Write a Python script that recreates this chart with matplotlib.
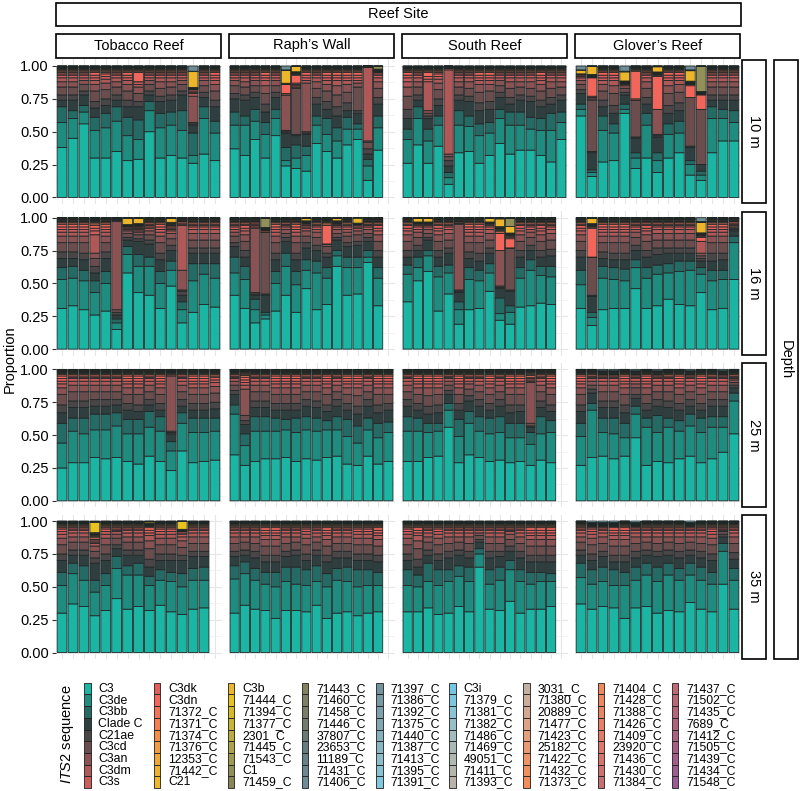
"""Faceted stacked bars: ITS2 sequence proportions per sample, by reef site and depth."""
import numpy as np
import matplotlib
matplotlib.use("Agg")
import matplotlib.pyplot as plt
from matplotlib.patches import Rectangle

plt.rcParams["font.family"] = ["Liberation Sans", "DejaVu Sans"]
plt.rcParams["mathtext.fontset"] = "custom"
plt.rcParams["mathtext.rm"] = "Liberation Sans"
plt.rcParams["mathtext.it"] = "Liberation Sans:italic"

# ---- categories -------------------------------------------------------------
SEQS = [
    "C3", "C3de", "C3bb", "Clade C", "C21ae", "C3cd", "C3an", "C3dm", "C3s",
    "C3dk", "C3dn", "71372_C", "71371_C", "71374_C", "71376_C", "12353_C", "71442_C", "C21",
    "C3b", "71444_C", "71394_C", "71377_C", "2301_C", "71445_C", "71543_C", "C1", "71459_C",
    "71443_C", "71460_C", "71458_C", "71446_C", "37807_C", "23653_C", "11189_C", "71431_C", "71406_C",
    "71397_C", "71386_C", "71392_C", "71375_C", "71440_C", "71387_C", "71413_C", "71395_C", "71391_C",
    "C3i", "71379_C", "71381_C", "71382_C", "71486_C", "71469_C", "49051_C", "71411_C", "71393_C",
    "3031_C", "71380_C", "20889_C", "71477_C", "71423_C", "25182_C", "71422_C", "71432_C", "71373_C",
    "71404_C", "71428_C", "71388_C", "71426_C", "71409_C", "23920_C", "71436_C", "71430_C", "71384_C",
    "71437_C", "71502_C", "71435_C", "7689_C", "71412_C", "71505_C", "71439_C", "71434_C", "71548_C",
]
PALETTE = [
    "#1BB5A4", "#1F8C80", "#246B66", "#2F3E3F", "#4A4546", "#6B4D4E", "#8A5253", "#B05858", "#CC5C5C",
    "#E05F5C", "#F2655A", "#F47258", "#F48052", "#F28E49", "#F09C40", "#EEA838", "#EDB232", "#EDB82C",
    "#EDB62A", "#E8C21E", "#D6BA2A", "#C8B436", "#B9AC40", "#ABA448", "#9E9A50", "#928F58", "#888659",
    "#83825E", "#7E8064", "#7A7E68", "#727C6E", "#697A74", "#667C7E", "#688186", "#6B878F", "#6D8C96",
    "#72939E", "#7799A5", "#7CA0AC", "#80A7B3", "#84AFBB", "#88B6C3", "#8BBDCB", "#88C3D4", "#80C8DE",
    "#74C6E4", "#7CC6DF", "#88C4D4", "#96C0C8", "#A1BDBE", "#A9BAB6", "#AFB8B1", "#B3B5AE", "#B8B2AA",
    "#C4B0A2", "#CCAD9A", "#D4A890", "#DCA486", "#E3A07C", "#E99A72", "#EE9568", "#F0905F", "#F28C58",
    "#F08A5C", "#EE8760", "#EB8463", "#E78066", "#E27C68", "#DD786A", "#D6746C", "#CF716E", "#C76E70",
    "#C06A73", "#BA6776", "#B56579", "#B0627D", "#AB6081", "#A65E86", "#A25D8B", "#9E5C90", "#995A96",
]

SITES = ["Tobacco Reef", "Raph\u2019s Wall", "South Reef", "Glover\u2019s Reef"]
DEPTHS = ["10 m", "16 m", "25 m", "35 m"]
N_POSITIONS = [15, 16, 16, 15]   # sample slots per site column

# major sequences, % per sample: C3, C3de, C3bb, Clade C, C21ae, C3cd, C3an, C3dm, C3s, C3dk, C3dn
MAJOR = SEQS[:11]

tobacco_10m = [
    [38, 19, 12, 5, 4, 6, 4, 3, 2, 1, 1], [45, 15, 6, 8, 4, 6, 4, 3, 2, 1, 1],
    [56, 9, 5, 8, 3, 5, 3, 2, 2, 1, 1], [30, 21, 10, 7, 5, 8, 5, 3, 2, 2, 2],
    [30, 23, 11, 6, 5, 7, 5, 3, 2, 2, 1], [35, 23, 11, 5, 4, 6, 4, 3, 2, 1, 1],
    [28, 19, 14, 8, 5, 7, 5, 3, 2, 2, 2], [29, 15, 15, 10, 4, 6, 5, 2, 2, 0, 7],
    [50, 16, 7, 5, 3, 5, 3, 2, 2, 1, 1], [30, 23, 11, 9, 4, 6, 5, 3, 2, 1, 1],
    [32, 23, 10, 9, 4, 6, 4, 3, 2, 1, 1], [30, 21, 15, 12, 3, 5, 3, 2, 2, 1, 1],
    [26, 6, 17, 6, 1, 1, 20, 2, 1, 1, 1], [33, 27, 9, 7, 4, 5, 4, 2, 2, 1, 1],
    [28, 21, 9, 11, 5, 7, 5, 3, 2, 2, 2],
]
raphs_10m = [
    [37, 18, 10, 10, 4, 6, 4, 2, 2, 1, 1], [32, 23, 7, 12, 4, 6, 4, 3, 2, 1, 1],
    [44, 14, 9, 9, 4, 5, 4, 2, 2, 1, 1], [30, 18, 9, 8, 6, 8, 6, 4, 2, 2, 2],
    [47, 13, 7, 9, 4, 5, 4, 2, 2, 1, 1], [24, 4, 10, 11, 1, 1, 27, 0, 0, 1, 7],
    [22, 8, 10, 7, 1, 35, 1, 1, 1, 1, 6], [20, 12, 7, 9, 1, 1, 37, 2, 2, 2, 2],
    [41, 14, 7, 9, 5, 7, 5, 3, 2, 1, 1], [35, 13, 12, 7, 6, 8, 5, 3, 2, 2, 2],
    [30, 13, 10, 9, 7, 9, 7, 4, 2, 2, 2], [40, 12, 9, 5, 6, 8, 6, 3, 2, 2, 2],
    [44, 8, 4, 8, 2, 18, 3, 2, 2, 2, 2], [13, 11, 5, 4, 4, 5, 1, 56, 0, 0, 0],
    [36, 17, 9, 9, 5, 7, 5, 3, 2, 1, 1],
]
south_10m = [
    [26, 18, 8, 8, 7, 10, 7, 4, 3, 2, 2], [40, 20, 9, 5, 4, 6, 4, 3, 2, 1, 1],
    [26, 17, 9, 8, 2, 2, 2, 22, 2, 2, 3], [39, 16, 7, 8, 5, 7, 5, 3, 2, 2, 1],
    [10, 5, 4, 5, 4, 3, 2, 64, 1, 0, 0], [34, 21, 11, 8, 4, 6, 4, 3, 2, 1, 1],
    [35, 19, 8, 11, 4, 6, 5, 3, 2, 1, 1], [26, 21, 9, 10, 6, 8, 6, 3, 2, 2, 2],
    [32, 17, 8, 10, 6, 8, 5, 3, 2, 2, 2], [41, 19, 7, 9, 4, 5, 4, 2, 2, 1, 1],
    [33, 22, 10, 6, 5, 7, 5, 3, 2, 1, 1], [36, 19, 10, 9, 4, 6, 4, 3, 2, 1, 1],
    [36, 16, 9, 12, 4, 6, 5, 3, 2, 1, 1], [32, 19, 9, 9, 5, 7, 5, 3, 2, 2, 2],
    [27, 24, 13, 7, 5, 7, 5, 3, 2, 1, 1], [44, 13, 8, 9, 4, 6, 4, 3, 2, 1, 1],
]
glovers_10m = [
    [62, 5, 4, 8, 3, 4, 3, 2, 1, 1, 1], [16, 3, 2, 13, 1, 39, 1, 1, 0, 1, 14],
    [27, 24, 11, 7, 5, 7, 5, 3, 2, 2, 2], [28, 21, 7, 8, 6, 9, 6, 4, 2, 2, 2],
    [64, 3, 4, 7, 2, 3, 2, 1, 0, 0, 0], [22, 8, 4, 11, 1, 28, 0, 0, 0, 1, 21],
    [30, 25, 9, 7, 5, 7, 5, 3, 2, 1, 1], [19, 9, 6, 12, 1, 1, 19, 0, 0, 0, 25],
    [30, 18, 8, 8, 6, 9, 6, 4, 2, 2, 2], [34, 15, 9, 8, 6, 8, 6, 3, 2, 2, 2],
    [17, 8, 3, 10, 1, 37, 0, 0, 0, 0, 9], [13, 4, 3, 5, 0, 42, 0, 0, 0, 0, 11],
    [34, 26, 9, 5, 4, 6, 4, 3, 2, 1, 1], [43, 17, 7, 7, 4, 6, 4, 3, 2, 1, 1],
    [43, 14, 9, 8, 4, 6, 4, 3, 2, 1, 1],
]
tobacco_16m = [
    [31, 22, 9, 7, 5, 7, 5, 3, 2, 2, 2], [33, 21, 9, 6, 5, 7, 5, 3, 2, 2, 2],
    [30, 22, 8, 8, 5, 8, 5, 3, 2, 2, 2], [26, 17, 9, 6, 5, 6, 4, 14, 3, 2, 2],
    [29, 21, 9, 10, 5, 7, 5, 3, 2, 2, 2], [15, 5, 3, 3, 2, 2, 67, 1, 0, 0, 0],
    [58, 14, 6, 5, 2, 3, 2, 1, 1, 1, 0], [43, 20, 9, 10, 2, 3, 2, 1, 1, 1, 0],
    [41, 22, 7, 10, 3, 4, 3, 2, 1, 1, 1], [31, 19, 9, 9, 5, 8, 5, 3, 2, 2, 2],
    [48, 12, 7, 8, 4, 5, 4, 2, 1, 1, 1], [20, 10, 6, 5, 3, 1, 15, 34, 1, 1, 1],
    [28, 24, 13, 8, 4, 6, 5, 3, 2, 1, 1], [34, 23, 8, 8, 4, 6, 5, 3, 2, 1, 1],
    [32, 22, 11, 8, 4, 6, 5, 3, 2, 1, 1],
]
raphs_16m = [
    [41, 17, 12, 8, 3, 5, 3, 2, 2, 1, 1], [31, 22, 10, 7, 5, 7, 5, 3, 2, 2, 1],
    [20, 10, 8, 3, 1, 1, 49, 1, 1, 1, 1], [23, 3, 2, 13, 1, 47, 0, 0, 0, 0, 1],
    [29, 21, 9, 9, 5, 8, 5, 3, 2, 2, 2], [41, 22, 10, 9, 3, 3, 3, 2, 1, 1, 0],
    [28, 21, 10, 9, 5, 8, 5, 3, 2, 2, 2], [46, 14, 8, 9, 4, 5, 4, 2, 1, 1, 1],
    [30, 28, 9, 8, 4, 6, 4, 2, 2, 1, 1], [34, 20, 8, 8, 3, 5, 2, 0, 0, 0, 14],
    [63, 8, 4, 8, 2, 3, 3, 2, 1, 1, 0], [41, 21, 8, 8, 3, 5, 3, 2, 2, 1, 1],
    [42, 20, 8, 9, 3, 5, 3, 2, 1, 1, 1], [66, 4, 5, 7, 3, 3, 3, 2, 1, 1, 0],
    [33, 21, 8, 8, 5, 7, 5, 3, 2, 2, 1],
]
south_16m = [
    [36, 21, 7, 6, 5, 7, 5, 3, 2, 2, 1], [52, 10, 8, 5, 4, 6, 4, 2, 2, 1, 1],
    [59, 12, 4, 8, 2, 3, 3, 2, 1, 1, 0], [29, 26, 8, 7, 5, 7, 5, 3, 2, 2, 1],
    [42, 16, 6, 9, 4, 6, 5, 3, 2, 1, 1], [19, 11, 6, 7, 1, 1, 50, 1, 0, 0, 0],
    [30, 23, 9, 7, 5, 7, 5, 3, 2, 2, 2], [31, 21, 8, 7, 6, 8, 5, 3, 2, 2, 2],
    [44, 14, 7, 8, 4, 6, 5, 3, 2, 1, 1], [22, 5, 12, 7, 1, 1, 27, 0, 0, 0, 13],
    [19, 9, 5, 11, 1, 32, 0, 0, 0, 0, 7], [32, 22, 8, 8, 5, 7, 5, 3, 2, 2, 1],
    [33, 27, 8, 7, 4, 6, 4, 2, 2, 1, 1], [35, 21, 7, 7, 5, 7, 5, 3, 2, 2, 1],
    [34, 21, 8, 8, 5, 7, 5, 3, 2, 1, 1],
]
glovers_16m = [
    [31, 18, 11, 10, 5, 7, 5, 3, 2, 2, 1], [18, 6, 4, 12, 1, 29, 0, 0, 0, 0, 22],
    [30, 24, 9, 6, 5, 7, 5, 3, 2, 2, 2], [31, 22, 9, 6, 5, 8, 5, 3, 2, 2, 2],
    [31, 21, 9, 7, 5, 8, 5, 3, 2, 2, 2], [46, 16, 6, 7, 4, 6, 4, 2, 2, 1, 1],
    [31, 23, 8, 8, 5, 7, 5, 3, 2, 2, 1], [33, 24, 7, 8, 5, 6, 5, 3, 2, 1, 1],
    [38, 20, 7, 8, 4, 6, 5, 3, 2, 1, 1], [34, 25, 8, 6, 4, 6, 5, 3, 2, 1, 1],
    [33, 27, 7, 6, 4, 6, 5, 3, 2, 1, 1], [43, 14, 5, 5, 2, 2, 2, 9, 0, 0, 3],
    [30, 22, 8, 7, 6, 8, 5, 3, 2, 2, 2], [31, 22, 7, 8, 5, 8, 5, 3, 2, 2, 2],
    [53, 28, 5, 4, 1, 1, 1, 1, 1, 1, 1],
]
tobacco_25m = [
    [25, 19, 15, 8, 6, 8, 5, 3, 2, 2, 2], [29, 24, 10, 8, 5, 7, 5, 3, 2, 1, 1],
    [29, 22, 12, 8, 5, 7, 5, 3, 2, 1, 1], [33, 21, 12, 6, 5, 6, 5, 3, 2, 1, 1],
    [32, 22, 12, 6, 5, 6, 5, 3, 2, 1, 1], [33, 24, 10, 6, 4, 6, 5, 3, 2, 1, 1],
    [30, 21, 11, 7, 5, 7, 5, 3, 2, 2, 2], [28, 23, 11, 6, 5, 8, 5, 3, 2, 2, 2],
    [34, 22, 12, 5, 4, 6, 5, 3, 2, 1, 1], [30, 23, 11, 5, 5, 7, 5, 3, 2, 2, 2],
    [23, 15, 7, 6, 1, 1, 42, 1, 0, 0, 0], [38, 21, 8, 5, 5, 6, 5, 3, 2, 1, 1],
    [29, 23, 11, 6, 5, 7, 5, 3, 2, 2, 2], [30, 22, 11, 6, 5, 7, 5, 3, 2, 2, 2],
    [31, 22, 10, 7, 5, 7, 5, 3, 2, 2, 1],
]
raphs_25m = [
    [35, 31, 7, 8, 3, 4, 3, 2, 1, 1, 0], [27, 15, 9, 7, 3, 4, 20, 3, 2, 2, 2],
    [30, 23, 11, 7, 5, 7, 5, 3, 2, 1, 1], [32, 21, 11, 7, 5, 7, 5, 3, 2, 1, 1],
    [32, 21, 10, 6, 5, 7, 5, 3, 2, 2, 2], [33, 21, 8, 7, 5, 7, 5, 3, 2, 2, 2],
    [30, 22, 11, 6, 5, 7, 5, 3, 2, 2, 2], [32, 22, 10, 8, 5, 6, 5, 3, 2, 1, 1],
    [31, 22, 10, 8, 5, 7, 5, 3, 2, 1, 1], [33, 21, 7, 7, 5, 8, 5, 3, 2, 2, 2],
    [34, 20, 10, 8, 5, 6, 5, 3, 2, 1, 1], [28, 21, 13, 7, 5, 7, 5, 3, 2, 2, 2],
    [27, 17, 13, 9, 6, 8, 6, 3, 2, 2, 2], [34, 20, 9, 9, 5, 6, 5, 3, 2, 1, 1],
    [28, 20, 11, 8, 6, 8, 5, 3, 2, 2, 2], [30, 22, 8, 9, 5, 7, 5, 3, 2, 2, 2],
]
south_25m = [
    [30, 23, 11, 8, 5, 6, 5, 3, 2, 1, 1], [30, 23, 10, 6, 5, 7, 5, 3, 2, 2, 2],
    [33, 19, 7, 7, 6, 8, 6, 3, 2, 2, 2], [34, 19, 6, 8, 6, 8, 5, 3, 2, 2, 2],
    [56, 13, 5, 7, 3, 4, 3, 2, 1, 1, 0], [29, 20, 13, 7, 5, 7, 5, 3, 2, 2, 2],
    [35, 24, 9, 8, 4, 5, 4, 2, 2, 1, 1], [33, 20, 11, 8, 5, 6, 5, 3, 2, 1, 1],
    [30, 21, 12, 6, 5, 7, 5, 3, 2, 2, 2], [31, 21, 12, 8, 5, 6, 5, 3, 2, 1, 1],
    [29, 19, 11, 8, 6, 8, 5, 3, 2, 2, 2], [30, 18, 11, 9, 5, 8, 5, 3, 2, 2, 2],
    [27, 16, 9, 4, 1, 2, 31, 1, 1, 1, 1], [31, 20, 13, 7, 5, 7, 5, 3, 2, 1, 1],
    [29, 23, 9, 7, 5, 8, 5, 3, 2, 2, 2],
]
glovers_25m = [
    [27, 22, 10, 9, 5, 8, 5, 3, 2, 2, 2], [33, 36, 5, 8, 3, 3, 3, 2, 1, 1, 0],
    [34, 18, 11, 8, 5, 7, 5, 3, 2, 1, 1], [32, 19, 12, 8, 5, 7, 5, 3, 2, 1, 1],
    [34, 14, 11, 8, 6, 8, 5, 3, 2, 2, 2], [48, 18, 6, 6, 3, 5, 3, 2, 2, 1, 1],
    [27, 29, 7, 6, 5, 7, 5, 3, 2, 2, 2], [30, 22, 13, 7, 5, 6, 5, 3, 2, 1, 1],
    [29, 27, 7, 8, 5, 7, 5, 3, 2, 1, 1], [32, 21, 8, 8, 5, 7, 5, 3, 2, 2, 2],
    [34, 23, 9, 6, 5, 6, 5, 3, 2, 1, 1], [29, 23, 11, 6, 5, 7, 5, 3, 2, 2, 2],
    [32, 24, 8, 8, 5, 6, 5, 3, 2, 1, 1], [37, 19, 8, 8, 5, 6, 5, 3, 2, 1, 1],
    [51, 25, 6, 4, 2, 2, 2, 1, 1, 1, 0],
]
tobacco_35m = [
    [30, 21, 10, 9, 5, 7, 5, 3, 2, 2, 1], [37, 23, 8, 6, 4, 6, 4, 3, 2, 1, 1],
    [35, 20, 11, 8, 4, 6, 4, 3, 2, 1, 1], [28, 18, 9, 13, 4, 5, 4, 2, 1, 1, 1],
    [32, 19, 9, 10, 5, 7, 5, 3, 2, 2, 1], [41, 23, 9, 6, 3, 5, 3, 2, 1, 1, 1],
    [33, 26, 7, 8, 4, 6, 4, 3, 2, 1, 1], [35, 24, 9, 6, 4, 6, 4, 3, 2, 1, 1],
    [32, 19, 7, 7, 6, 8, 6, 4, 2, 2, 2], [36, 19, 8, 7, 5, 7, 5, 3, 2, 2, 1],
    [31, 23, 7, 9, 5, 7, 5, 3, 2, 2, 1], [29, 21, 10, 10, 4, 6, 5, 3, 2, 1, 1],
    [33, 22, 9, 9, 4, 6, 5, 3, 2, 1, 1], [34, 21, 10, 8, 4, 6, 5, 3, 2, 1, 1],
]
raphs_35m = [
    [30, 26, 10, 7, 4, 6, 5, 3, 2, 1, 1], [36, 24, 9, 5, 4, 6, 4, 3, 2, 1, 1],
    [33, 22, 9, 8, 5, 6, 5, 3, 2, 1, 1], [32, 20, 9, 8, 5, 7, 5, 3, 2, 2, 2],
    [26, 24, 11, 8, 5, 7, 5, 3, 2, 2, 2], [32, 22, 11, 8, 4, 6, 5, 3, 2, 1, 1],
    [32, 20, 13, 9, 4, 6, 4, 3, 2, 1, 1], [31, 20, 12, 7, 5, 7, 5, 3, 2, 2, 1],
    [36, 18, 12, 8, 4, 6, 4, 3, 2, 1, 1], [26, 24, 10, 9, 5, 7, 5, 3, 2, 2, 2],
    [30, 25, 9, 8, 5, 6, 5, 3, 2, 1, 1], [31, 23, 11, 7, 5, 6, 5, 3, 2, 1, 1],
    [28, 22, 13, 7, 5, 7, 5, 3, 2, 2, 1], [30, 21, 12, 7, 5, 7, 5, 3, 2, 2, 1],
    [31, 20, 10, 8, 5, 7, 5, 3, 2, 2, 2],
]
south_35m = [
    [31, 20, 12, 7, 5, 7, 5, 3, 2, 2, 1], [31, 19, 9, 6, 6, 8, 6, 4, 2, 2, 2],
    [34, 20, 14, 6, 4, 6, 4, 3, 2, 1, 1], [29, 22, 12, 7, 5, 7, 5, 3, 2, 2, 1],
    [30, 24, 9, 9, 5, 6, 5, 3, 2, 1, 1], [35, 23, 8, 8, 4, 6, 4, 3, 2, 1, 1],
    [31, 23, 11, 7, 5, 6, 5, 3, 2, 1, 1], [65, 10, 4, 5, 2, 3, 2, 2, 1, 1, 0],
    [33, 19, 11, 9, 5, 6, 5, 3, 2, 1, 1], [32, 23, 10, 8, 4, 6, 5, 3, 2, 1, 1],
    [39, 24, 7, 7, 4, 5, 4, 2, 1, 1, 1], [30, 24, 9, 9, 5, 6, 5, 3, 2, 1, 1],
    [33, 19, 9, 8, 5, 7, 5, 3, 2, 2, 2], [33, 21, 7, 8, 5, 7, 5, 3, 2, 2, 2],
    [35, 19, 6, 9, 5, 7, 5, 3, 2, 2, 2],
]
glovers_35m = [
    [37, 20, 11, 6, 4, 6, 4, 3, 2, 1, 1], [33, 19, 11, 7, 5, 7, 5, 3, 2, 2, 1],
    [35, 19, 11, 8, 4, 6, 5, 3, 2, 1, 1], [34, 17, 12, 6, 5, 7, 5, 3, 2, 2, 2],
    [26, 25, 10, 8, 5, 7, 5, 3, 2, 2, 2], [34, 21, 10, 7, 5, 6, 5, 3, 2, 1, 1],
    [35, 24, 9, 6, 4, 6, 4, 3, 2, 1, 1], [30, 24, 11, 8, 4, 6, 5, 3, 2, 1, 1],
    [32, 27, 9, 6, 4, 6, 4, 3, 2, 1, 1], [31, 24, 9, 8, 5, 6, 5, 3, 2, 1, 1],
    [38, 21, 9, 6, 4, 6, 4, 3, 2, 1, 1], [33, 22, 10, 7, 5, 6, 5, 3, 2, 1, 1],
    [31, 21, 9, 9, 5, 7, 5, 3, 2, 2, 1], [52, 25, 6, 5, 2, 2, 1, 1, 1, 0, 0],
    [33, 22, 9, 7, 5, 7, 5, 3, 2, 1, 1],
]

PANELS = {
    (SITES[0], "10 m"): tobacco_10m, (SITES[1], "10 m"): raphs_10m,
    (SITES[2], "10 m"): south_10m, (SITES[3], "10 m"): glovers_10m,
    (SITES[0], "16 m"): tobacco_16m, (SITES[1], "16 m"): raphs_16m,
    (SITES[2], "16 m"): south_16m, (SITES[3], "16 m"): glovers_16m,
    (SITES[0], "25 m"): tobacco_25m, (SITES[1], "25 m"): raphs_25m,
    (SITES[2], "25 m"): south_25m, (SITES[3], "25 m"): glovers_25m,
    (SITES[0], "35 m"): tobacco_35m, (SITES[1], "35 m"): raphs_35m,
    (SITES[2], "35 m"): south_35m, (SITES[3], "35 m"): glovers_35m,
}

# conspicuous minor sequences: (site, depth, sample no., sequence, %)
EXTRAS = [
    (SITES[0], "10 m", 13, "C3b", 12), (SITES[0], "10 m", 13, "71406_C", 4),
    (SITES[1], "10 m", 6, "C3b", 10), (SITES[1], "10 m", 6, "71406_C", 3),
    (SITES[1], "10 m", 7, "C3b", 4), (SITES[1], "10 m", 15, "C1", 2),
    (SITES[3], "10 m", 1, "C3b", 3), (SITES[3], "10 m", 1, "71406_C", 3),
    (SITES[3], "10 m", 2, "C3b", 6), (SITES[3], "10 m", 5, "C3b", 7),
    (SITES[3], "10 m", 5, "71406_C", 4), (SITES[3], "10 m", 8, "C3b", 4),
    (SITES[3], "10 m", 11, "C3b", 8), (SITES[3], "10 m", 11, "71406_C", 3),
    (SITES[3], "10 m", 12, "C1", 19),
    (SITES[0], "16 m", 7, "C3b", 5), (SITES[0], "16 m", 8, "C3b", 4),
    (SITES[0], "16 m", 11, "C3b", 3),
    (SITES[1], "16 m", 4, "C1", 7), (SITES[1], "16 m", 8, "C3b", 2),
    (SITES[1], "16 m", 11, "C3b", 2), (SITES[1], "16 m", 13, "C3b", 4),
    (SITES[2], "16 m", 2, "C3b", 3), (SITES[2], "16 m", 3, "C3b", 3),
    (SITES[2], "16 m", 9, "C3b", 3), (SITES[2], "16 m", 10, "C3b", 6),
    (SITES[2], "16 m", 11, "C3b", 5), (SITES[2], "16 m", 11, "C1", 6),
    (SITES[3], "16 m", 2, "C3b", 4), (SITES[3], "16 m", 12, "C3b", 8),
    (SITES[3], "16 m", 12, "71406_C", 3),
    (SITES[3], "25 m", 3, "71391_C", 1), (SITES[3], "25 m", 4, "71391_C", 1),
    (SITES[3], "25 m", 6, "71391_C", 1), (SITES[3], "25 m", 8, "71391_C", 1),
    (SITES[3], "25 m", 11, "71391_C", 1), (SITES[3], "25 m", 14, "71391_C", 1),
    (SITES[0], "35 m", 4, "71444_C", 8), (SITES[0], "35 m", 9, "71444_C", 1),
    (SITES[0], "35 m", 12, "71444_C", 6),
    (SITES[3], "35 m", 2, "71391_C", 1), (SITES[3], "35 m", 3, "71391_C", 1),
    (SITES[3], "35 m", 4, "71391_C", 1), (SITES[3], "35 m", 6, "71391_C", 1),
    (SITES[3], "35 m", 11, "71391_C", 1),
]

# the remaining few % of each sample is spread over rare sequences
TAIL_SEQS = ["71372_C", "71371_C", "71374_C", "71376_C", "12353_C",
             "71442_C", "C21", "71459_C", "71446_C", "37807_C"]
TAIL_SHARE = [0.22, 0.16, 0.13, 0.11, 0.09, 0.08, 0.07, 0.05, 0.05, 0.04]

# ---- layout (pixels of the 800 x 791 canvas) ---------------------------------
W, H = 800, 791
COL_X = [55.5, 228.5, 401.5, 574.5]
COL_W = 166
ROW_Y = [59.4, 211.1, 362.8, 514.5]
ROW_H = 144.6


def px_rect(x0, y0, w, h):
    return [x0 / W, 1 - (y0 + h) / H, w / W, h / H]


def panel_matrix(site, depth):
    rows = PANELS[(site, depth)]
    mat = np.zeros((len(rows), len(SEQS)))
    for i, r in enumerate(rows):
        for j, v in enumerate(r):
            mat[i, SEQS.index(MAJOR[j])] = v
    for s, d, k, seq, v in EXTRAS:
        if s == site and d == depth:
            mat[k - 1, SEQS.index(seq)] += v
    rest = np.clip(100 - mat.sum(axis=1), 0, None)
    for seq, share in zip(TAIL_SEQS, TAIL_SHARE):
        mat[:, SEQS.index(seq)] += rest * share
    return mat / 100.0


fig = plt.figure(figsize=(W / 100, H / 100), dpi=100)

for ci, site in enumerate(SITES):
    for ri, depth in enumerate(DEPTHS):
        ax = fig.add_axes(px_rect(COL_X[ci], ROW_Y[ri], COL_W, ROW_H))
        npos = N_POSITIONS[ci]
        mat = panel_matrix(site, depth)
        x = np.arange(1, mat.shape[0] + 1)
        bottom = np.zeros(mat.shape[0])
        for j in range(len(SEQS)):
            vals = mat[:, j]
            if not vals.any():
                continue
            bars = ax.bar(x, vals, bottom=bottom, width=0.9, color=PALETTE[j],
                          edgecolor="#1e2626", linewidth=0.6, zorder=2)
            for b in bars:
                b.set_snap(False)
            bottom += vals
        ax.set_xlim(0.4, npos + 0.6)
        ax.set_ylim(-0.05, 1.05)
        ax.set_xticks(np.arange(1, npos + 1))
        ax.set_yticks([0, 0.25, 0.5, 0.75, 1.0])
        ax.set_yticks(np.arange(0.125, 1.0, 0.25), minor=True)
        ax.grid(which="major", color="#e6e6e6", linewidth=0.8, zorder=0)
        ax.grid(which="minor", axis="y", color="#eeeeee", linewidth=0.5, zorder=0)
        ax.set_axisbelow(True)
        for sp in ax.spines.values():
            sp.set_visible(False)
        ax.tick_params(axis="x", length=0, labelbottom=False)
        ax.tick_params(axis="y", which="minor", length=0)
        if ci == 0:
            ax.set_yticklabels(["0.00", "0.25", "0.50", "0.75", "1.00"])
            ax.tick_params(axis="y", length=3.2, width=0.8, color="#333333",
                           labelsize=10.5, pad=1.5, labelcolor="black")
        else:
            ax.tick_params(axis="y", length=0, labelleft=False)

# overlay for strips, axis title and legend, in pixel units
ov = fig.add_axes([0, 0, 1, 1], zorder=-1)
ov.set_xlim(0, W)
ov.set_ylim(H, 0)
ov.axis("off")

strip_kw = dict(facecolor="white", edgecolor="black", linewidth=1.2)
ov.add_patch(Rectangle((COL_X[0], 2.5), COL_X[3] + COL_W - COL_X[0], 23.5, **strip_kw))
ov.text((COL_X[0] + COL_X[3] + COL_W) / 2, 14.5, "Reef Site", ha="center", va="center", fontsize=10.5)
for ci, site in enumerate(SITES):
    ov.add_patch(Rectangle((COL_X[ci] + 0.5, 33.5), COL_W - 1, 24, **strip_kw))
    ov.text(COL_X[ci] + COL_W / 2, 45.5, site, ha="center", va="center", fontsize=10.5)
for ri, depth in enumerate(DEPTHS):
    ov.add_patch(Rectangle((741.5, ROW_Y[ri] + 0.5), 24.5, ROW_H - 1, **strip_kw))
    ov.text(753.8, ROW_Y[ri] + ROW_H / 2, depth, ha="center", va="center",
            rotation=-90, fontsize=10.5)
ov.add_patch(Rectangle((773.5, ROW_Y[0] + 0.5), 24.5, ROW_Y[3] + ROW_H - ROW_Y[0] - 1, **strip_kw))
ov.text(785.8, (ROW_Y[0] + ROW_Y[3] + ROW_H) / 2, "Depth", ha="center", va="center",
        rotation=-90, fontsize=10.5)

ov.text(10, (ROW_Y[0] + ROW_Y[3] + ROW_H) / 2, "Proportion", ha="center", va="center",
        rotation=90, fontsize=10.5)

# legend: 9 columns x 9 rows
KEY_X = [84, 153.7, 227.7, 301.7, 376, 449.3, 523.3, 597.7, 671.7]
KEY_TOP, KEY_H, KEY_W = 682.7, 11.7, 6.7
ov.text(67, 734, r"$\it{ITS2}$ sequence", ha="center", va="center", rotation=90, fontsize=10.5)
for c in range(9):
    for r in range(9):
        i = c * 9 + r
        y0 = KEY_TOP + r * KEY_H
        ov.add_patch(Rectangle((KEY_X[c], y0), KEY_W, KEY_H, facecolor=PALETTE[i],
                               edgecolor="#1e1e1e", linewidth=0.6))
        ov.text(KEY_X[c] + 14.5, y0 + KEY_H / 2 + 0.3, SEQS[i], ha="left", va="center",
                fontsize=8.8)

fig.savefig("out.png", dpi=100)
